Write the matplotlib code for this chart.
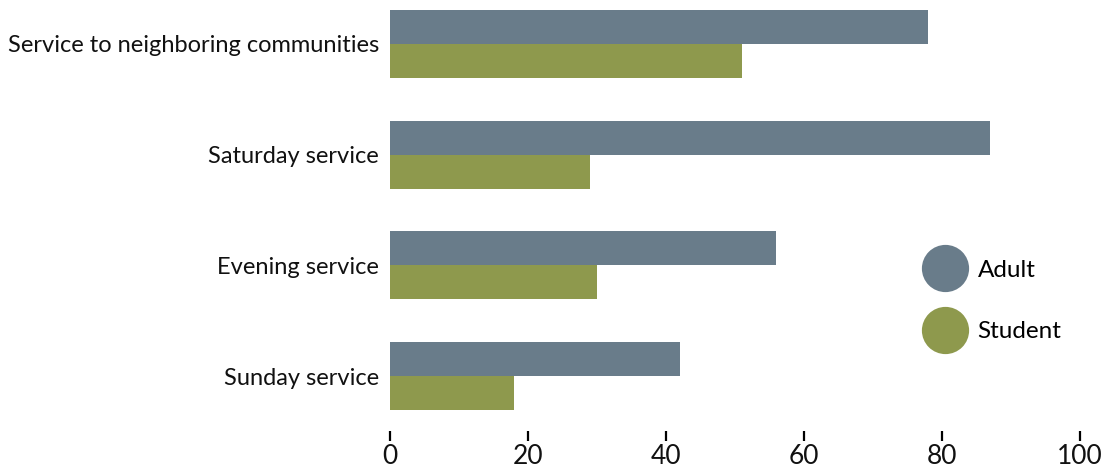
import matplotlib.pyplot as plt
import numpy as np
from matplotlib.lines import Line2D

categories = ["Service to neighboring communities", "Saturday service",
              "Evening service", "Sunday service"]
adult = [78, 87, 56, 42]
student = [51, 29, 30, 18]
x_ticks = [0, 20, 40, 60, 80, 100]

ADULT_COLOR = "#697c8a"
STUDENT_COLOR = "#8e994d"

plt.rcParams["font.family"] = ["Lato", "DejaVu Sans"]

fig = plt.figure(figsize=(11.07, 4.74), dpi=100)
ax = fig.add_axes([390 / 1107, 43 / 474, 690 / 1107, 421 / 474])

y = np.arange(len(categories))
h = 34 / 111
ax.barh(y - h / 2, adult, height=h, color=ADULT_COLOR)
ax.barh(y + h / 2, student, height=h, color=STUDENT_COLOR)

ax.set_xlim(0, 100)
ax.set_ylim(3 + 55 / 111, -h)
ax.set_xticks(x_ticks)
ax.set_xticklabels([str(t) for t in x_ticks], fontsize=19, color="#111111")
ax.set_yticks(y)
ax.set_yticklabels(categories, fontsize=17, color="#111111")
ax.tick_params(axis="x", direction="out", length=7, width=1.6, pad=2, color="black")
ax.tick_params(axis="y", length=0, pad=8)
for s in ax.spines.values():
    s.set_visible(False)

handles = [
    Line2D([], [], linestyle="none", marker="o", markersize=34,
           markerfacecolor=ADULT_COLOR, markeredgecolor="none", label="Adult"),
    Line2D([], [], linestyle="none", marker="o", markersize=34,
           markerfacecolor=STUDENT_COLOR, markeredgecolor="none", label="Student"),
]
fig.legend(handles=handles, loc="center left", bbox_to_anchor=(918 / 1107, 1 - 301 / 474),
           frameon=False, fontsize=17.5, handlelength=1.2, handletextpad=0.75,
           labelspacing=1.65, borderpad=0)

fig.savefig("out.png", dpi=100)
